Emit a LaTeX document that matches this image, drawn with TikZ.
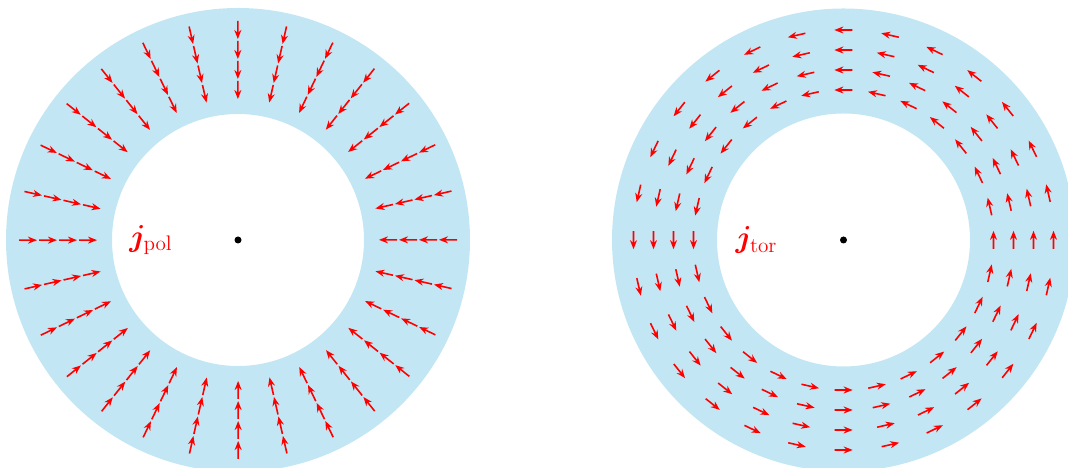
\documentclass[tikz,border=0pt]{standalone}
\usepackage{bm}
\usetikzlibrary{arrows.meta}
\definecolor{ringblue}{RGB}{194,230,243}

\begin{document}
\begin{tikzpicture}[
    ring/.style={fill=ringblue, even odd rule},
    jarr/.style={-{Stealth[length=1.8mm, width=1.4mm]}, line width=0.9pt, draw=red},
    lbl/.style={text=red, font=\LARGE},
    dot/.style={fill=black}
]
\useasboundingbox (0,0) rectangle (21.36,9.36);
\clip (0,0) rectangle (21.36,9.36);

% ---- Poloidal current ----
\coordinate (cpol) at (4.76,4.56);
\fill[ring] (cpol) circle (4.64) (cpol) circle (2.52);
\begin{scope}[shift={(cpol)}]
  \foreach \k in {0,...,27}
    \foreach \r in {3.0,3.4,3.8,4.2}
      \draw[jarr, rotate=\k*360/28+0.05] ({\r+0.18},0) -- ({\r-0.18},0);
\end{scope}
\fill[dot] (cpol) circle (0.07);
\node[lbl] (jpol) at ([xshift=-1.74cm]cpol) {$\bm{j}_{\mathrm{pol}}$};

% ---- Toroidal current ----
\coordinate (ctor) at (16.87,4.56);
\fill[ring] (ctor) circle (4.63) (ctor) circle (2.53);
\begin{scope}[shift={(ctor)}]
  \foreach \k in {0,...,27}
    \foreach \r in {3.0,3.4,3.8,4.2}
      \draw[jarr, rotate=\k*360/28+0.05] (\r,-0.18) -- (\r,0.18);
\end{scope}
\fill[dot] (ctor) circle (0.07);
\node[lbl] (jtor) at ([xshift=-1.74cm]ctor) {$\bm{j}_{\mathrm{tor}}$};

\end{tikzpicture}
\end{document}
